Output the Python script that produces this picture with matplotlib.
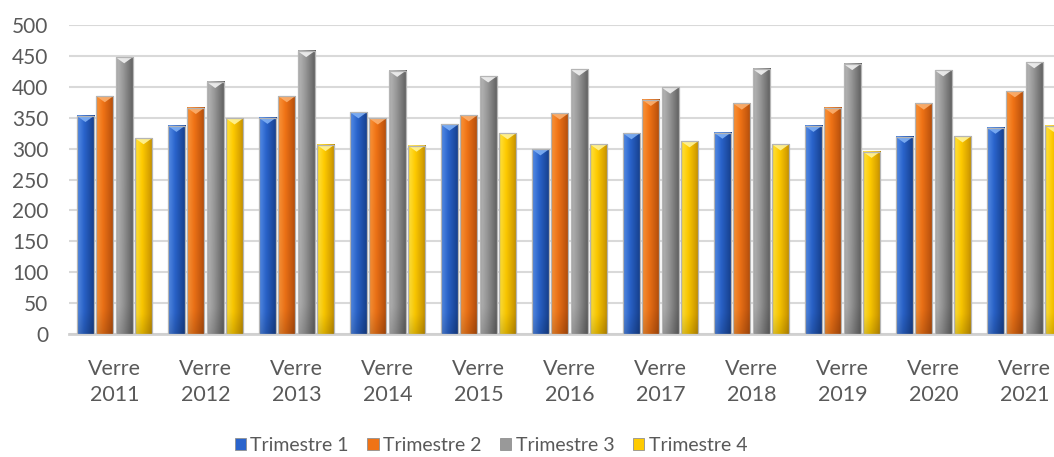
import numpy as np
import matplotlib
matplotlib.use("Agg")
import matplotlib.pyplot as plt
from matplotlib.patches import Polygon, Patch
from matplotlib.colors import to_rgb

# Quarterly volumes per year
years = ["2011", "2012", "2013", "2014", "2015", "2016", "2017", "2018", "2019", "2020", "2021"]
categories = [f"Verre\n{y}" for y in years]
series_names = ["Trimestre 1", "Trimestre 2", "Trimestre 3", "Trimestre 4"]
trimestre_1 = [353, 337, 350, 359, 339, 299, 325, 326, 337, 319, 334]
trimestre_2 = [385, 366, 385, 349, 354, 357, 379, 373, 366, 373, 393]
trimestre_3 = [448, 408, 458, 426, 417, 428, 399, 429, 437, 427, 440]
trimestre_4 = [317, 349, 306, 305, 325, 307, 312, 307, 295, 320, 337]
series_values = [trimestre_1, trimestre_2, trimestre_3, trimestre_4]
y_ticks = [0, 50, 100, 150, 200, 250, 300, 350, 400, 450, 500]

# Bevel palette: (left, mid, right, top highlight)
palettes = [
    ("#4a82e0", "#2a64cc", "#1a479a", "#7fb0f5"),
    ("#f88c30", "#f07316", "#c2560e", "#fbb070"),
    ("#b0b0b0", "#999999", "#6c6c6c", "#f2f2f2"),
    ("#ffdc30", "#ffcb00", "#d49e00", "#fff39a"),
]
legend_colors = ["#2a64cc", "#f07316", "#999999", "#ffcb00"]
text_color = "#595959"

plt.rcParams["font.family"] = ["Lato", "DejaVu Sans"]

fig = plt.figure(figsize=(10.54, 4.57), dpi=100)
ax = fig.add_axes([69 / 1054, 123 / 457, 1001 / 1054, 309 / 457])

x = np.arange(len(categories))
slot = 0.213
width = 0.19
offsets = (np.arange(4) - 1.5) * slot


def gradient_image(pal, n=64, m=64):
    left, mid, right, _ = [np.array(to_rgb(c)) for c in pal]
    t = np.linspace(0, 1, n)
    stops = [0.0, 0.12, 0.4, 0.85, 1.0]
    cols = [left * 0.92, left, mid, right, right * 0.85]
    row = np.stack([np.interp(t, stops, [c[k] for c in cols]) for k in range(3)], axis=1)
    v = np.linspace(0, 1, m)  # top -> bottom
    shade = np.interp(v, [0, 0.9, 1.0], [1.0, 0.97, 0.85])
    img = row[None, :, :] * shade[:, None, None]
    return np.clip(img, 0, 1)


for i, (vals, pal) in enumerate(zip(series_values, palettes)):
    bars = ax.bar(x + offsets[i], vals, width=width, facecolor="none",
                  edgecolor="#b5b5b5", linewidth=0.9, zorder=4)
    img = gradient_image(pal)
    for rect in bars:
        bx, bw, bh = rect.get_x(), rect.get_width(), rect.get_height()
        ax.imshow(img, extent=(bx, bx + bw, 0, bh), aspect="auto",
                  interpolation="bilinear", zorder=3)
        bevel = 10
        ax.add_patch(Polygon([(bx, bh), (bx + bw, bh), (bx + bw / 2, bh - bevel)],
                             closed=True, facecolor=pal[3], edgecolor="none",
                             alpha=0.9, zorder=3.5))

ax.set_xlim(-0.5, len(categories) - 0.5)
ax.set_ylim(0, 500)
ax.set_yticks(y_ticks)
ax.set_xticks(x)
ax.set_xticklabels(categories, linespacing=1.4)
ax.set_axisbelow(True)
ax.yaxis.grid(True, color="#d9d9d9", linewidth=1.5, zorder=0)
for s in ["top", "right", "left"]:
    ax.spines[s].set_visible(False)
ax.spines["bottom"].set_color("#d0d0d0")
ax.spines["bottom"].set_linewidth(2.0)
ax.tick_params(axis="y", length=0, pad=15, labelsize=15, labelcolor=text_color)
ax.tick_params(axis="x", length=0, pad=18, labelsize=15.5, labelcolor=text_color)

handles = [Patch(facecolor=c, edgecolor="#909090", linewidth=0.6) for c in legend_colors]
fig.legend(handles, series_names, loc="center", bbox_to_anchor=(0.466, 0.026),
           ncol=4, frameon=False, fontsize=14, labelcolor=text_color,
           handlelength=0.57, handleheight=0.57, handletextpad=0.25,
           columnspacing=0.95, borderaxespad=0)

fig.savefig("out.png", dpi=100)
